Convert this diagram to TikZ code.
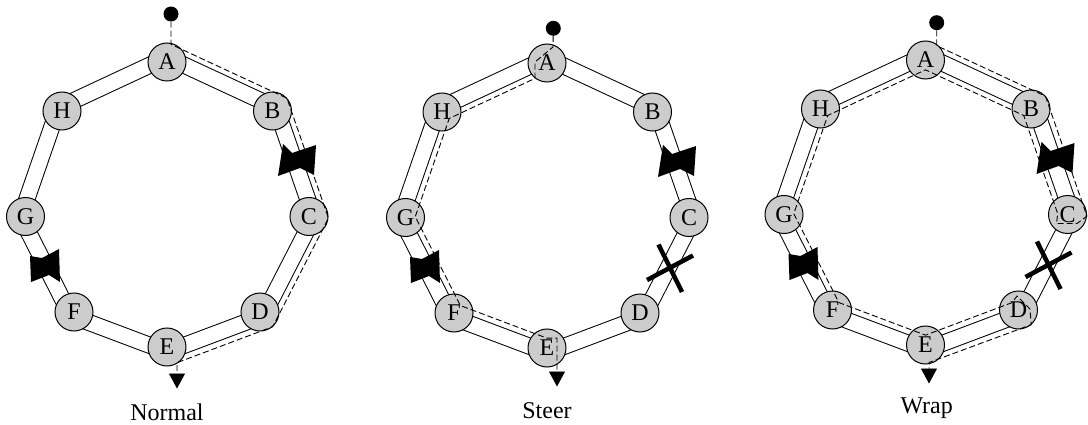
\documentclass[tikz,border=0pt]{standalone}
\usepackage{fontspec}
\setmainfont{Liberation Serif}
\usetikzlibrary{calc,arrows.meta}
\pgfdeclarelayer{bg}
\pgfsetlayers{bg,main}
\definecolor{nodegray}{RGB}{204,204,204}
\tikzset{
  ringnode/.style={circle, draw=black, line width=1pt, fill=nodegray, minimum size=38pt, inner sep=0pt, font=\fontsize{24}{28}\selectfont},
  link/.style={draw=black, line width=1pt, double=white, double distance=15pt},
  dpath/.style={draw=black, line width=0.9pt, dash pattern=on 6pt off 3pt, -{Triangle[width=16pt,length=15pt]}},
  startdot/.style={circle, fill=black, minimum size=15pt, inner sep=0pt},
  xmark/.style={draw=black, line width=4.5pt},
  bowtie/.style={fill=black},
  caption/.style={font=\fontsize{24}{28}\selectfont, anchor=base}
}
\newcommand{\buildring}[3]{%
  \coordinate (O#1) at (#2,#3+142.5);
  \node[ringnode] (A#1) at (#2,#3) {A};
  \node[ringnode] (B#1) at (#2+105.5,#3+49) {B};
  \node[ringnode] (C#1) at (#2+142,#3+154.5) {C};
  \node[ringnode] (D#1) at (#2+93,#3+250) {D};
  \node[ringnode] (E#1) at (#2,#3+285) {E};
  \node[ringnode] (F#1) at (#2-93,#3+250) {F};
  \node[ringnode] (G#1) at (#2-141.5,#3+154.5) {G};
  \node[ringnode] (H#1) at (#2-105,#3+49) {H};
  \foreach \na in {A,B,C,D,E,F,G,H}{%
    \coordinate (\na o#1) at ($(O#1)!1.137!(\na#1.center)$);
    \coordinate (\na i#1) at ($(O#1)!0.931!(\na#1.center)$);
    \coordinate (\na l#1) at ($(O#1)!1.034!(\na#1.center)$);
  }
  \begin{pgfonlayer}{bg}
    \foreach \na/\nb in {A/B,B/C,C/D,D/E,E/F,F/G,G/H,H/A}
      \draw[link] (\na l#1) -- (\nb l#1);
  \end{pgfonlayer}
  \fill[bowtie, shift={($(A#1.center)+(130,98)$)}] (-14,-16) -- (-5,-7) -- (19,-15) -- (17,15) -- (3,8) -- (-19,16) -- cycle;
  \fill[bowtie, shift={($(A#1.center)+(-122,204)$)}] (-15,-10) -- (-3,-8) -- (14,-17) -- (15,16) -- (4,9) -- (-14,16) -- cycle;
}
\begin{document}
\begin{tikzpicture}[x=1pt,y=-1pt]
\useasboundingbox (0,0) rectangle (1088,425);

% ---- Normal ----
\buildring{1}{167}{62}
\node[startdot] (s1) at (171,14) {};
\coordinate (t1) at (177,388.5);
\draw[dpath] (s1) -- (171,44.4) -- (Bo1) -- (Co1) -- (Do1) -- (177,362.7) -- (t1);
\node[caption] (cap1) at (167,420) {Normal};

% ---- Steer ----
\buildring{2}{547}{63}
\node[startdot] (s2) at (553.3,28.3) {};
\coordinate (t2) at (557,386.5);
\draw[dpath] (s2) -- (553,47) -- (535,62) -- (535,78.4) -- (Hi2) -- (Gi2) -- (Fi2) -- (Ei2) -- ++(10,0) -- (t2);
\draw[xmark, shift={($(A2.center)+(123,205)$)}] (-11.5,-23.5) -- (12,24) (-23,12) -- (23,-12.5);
\node[caption] (cap2) at (547,418) {Steer};

% ---- Wrap ----
\buildring{3}{925.5}{60}
\node[startdot] (s3) at (936.7,22.7) {};
\coordinate (t3) at (929,383.5);
\draw[dpath] (s3) -- (936.7,45.7) -- (Bo3) -- (Co3) -- (1077,223.5) -- (1056.5,223.5) -- (Ci3) -- (Bi3) -- (Ai3) -- (Hi3) -- (Gi3) -- (Fi3) -- (Ei3) -- (Di3) -- (1017,296) -- (1030,309) -- (Do3) -- (929,362.5) -- (t3);
\draw[xmark, shift={($(A3.center)+(123,205)$)}] (-11.5,-23.5) -- (12,24) (-23,12) -- (23,-12.5);
\node[caption] (cap3) at (926.7,413.3) {Wrap};
\end{tikzpicture}
\end{document}
